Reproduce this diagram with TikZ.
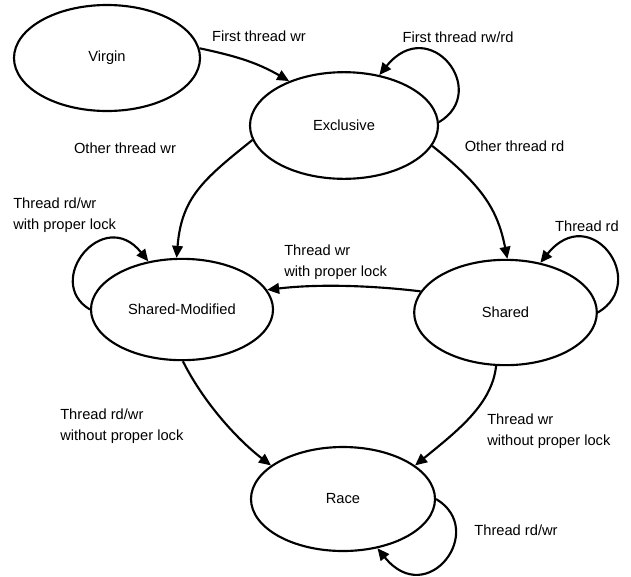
\documentclass[tikz,border=0pt]{standalone}
\usepackage{fontspec}
\setmainfont{Liberation Sans}
\usetikzlibrary{shapes.geometric,arrows.meta}
\begin{document}
\begin{tikzpicture}[x=0.75pt,y=-0.75pt,
  state/.style={ellipse,draw,line width=1.6pt,inner sep=0pt,font=\fontsize{11}{13}\selectfont},
  edge/.style={line width=1.6pt,-{Triangle[length=9pt,width=8pt]}},
  lbl/.style={font=\fontsize{11}{15.75}\selectfont,inner sep=0pt,align=left}]
\useasboundingbox (0,0) rectangle (631,576);
% states
\node[state,minimum width=139.5pt,minimum height=79.5pt] (virgin) at (107,58) {Virgin};
\node[state,minimum width=141pt,minimum height=80pt] (excl) at (344,125.5) {Exclusive};
\node[state,minimum width=136.5pt,minimum height=76pt] (sm) at (182,309.5) {Shared-Modified};
\node[state,minimum width=137pt,minimum height=79pt] (shared) at (505.5,312.5) {Shared};
\node[state,minimum width=138pt,minimum height=78pt] (race) at (343,499) {Race};
% transitions
\draw[edge] (virgin.6) to[out=-12,in=150] (excl.141);
\draw[edge] (excl.2) .. controls +(52,-31) and +(50,-62) .. (excl.55);
\draw[edge] (excl.189) .. controls +(-50,40) and +(5,-60) .. (sm.96);
\draw[edge] (excl.-13) .. controls +(50,40) and +(-10,-50) .. (shared.88);
\draw[edge] (shared.0) .. controls +(52,-31) and +(50,-62) .. (shared.55);
\draw[edge] (sm.180) .. controls +(-47,-28) and +(-45,-56) .. (sm.125);
\draw[edge] (shared.166) .. controls +(-50,-6) and +(50,-6) .. (sm.13);
\draw[edge] (sm.-89) .. controls +(20,40) and +(-35,-27) .. (race.155);
\draw[edge] (shared.-100) .. controls +(-4,38) and +(43,-35) .. (race.25);
\draw[edge] (race.0) .. controls +(52,31) and +(50,62) .. (race.-55);
% labels
\node[lbl] (l1) at (259,36) {First thread wr};
\node[lbl] (l2) at (458,37) {First thread rw/rd};
\node[lbl] (l3) at (125,148) {Other thread wr};
\node[lbl] (l4) at (514.5,146) {Other thread rd};
\node[lbl,anchor=west] (l5) at (13,215.5) {Thread rd/wr\\with proper lock};
\node[lbl,anchor=west] (l6) at (284,262) {Thread wr\\with proper lock};
\node[lbl] (l7) at (587,226) {Thread rd};
\node[lbl,anchor=west] (l8) at (60,426.5) {Thread rd/wr\\without proper lock};
\node[lbl,anchor=west] (l9) at (487,431) {Thread wr\\without proper lock};
\node[lbl] (l10) at (516,530) {Thread rd/wr};
\end{tikzpicture}
\end{document}
